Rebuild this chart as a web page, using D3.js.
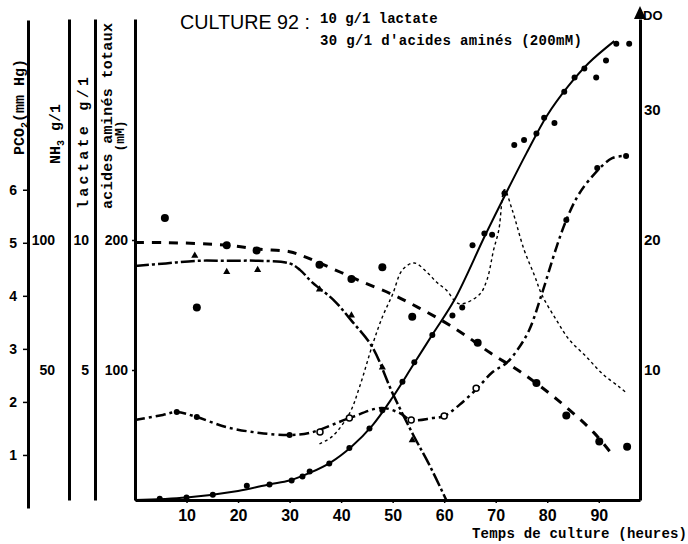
<!DOCTYPE html>
<html>
<head>
<meta charset="utf-8">
<script src="https://cdn.jsdelivr.net/npm/d3@7"></script>
<style>
  body { margin: 0; background: #fff; }
  svg { display: block; }
</style>
</head>
<body>
<div id="chart"></div>
<script>
// values, time in hours
const doCurveHours = [0, 10, 20, 26, 30, 34, 38, 42, 46, 50, 54, 58, 62, 68, 72, 76, 80, 84, 88, 93];
const doCurveValues = [0, 0.2, 0.7, 1.2, 1.5, 2.1, 2.9, 4.1, 5.7, 7.9, 10.4, 12.9, 15.4, 20.4, 23.6, 26.7, 29.6, 31.8, 33.6, 35.3];
const doPointHours = [4.8, 10, 15.1, 21.7, 26.1, 30.4, 32.5, 33.9, 37.7, 41.6, 45.5, 48, 51.9, 54.2, 57.7, 61.6, 63.5, 65.5, 67.8, 69.3, 71.7, 73.6, 75.5, 77.9, 79.4, 81.4, 83.3, 85.3, 87.2, 89.5, 91.4, 93.4, 95.9];
const doPointValues = [0.1, 0.2, 0.4, 1.1, 1.2, 1.5, 1.8, 2.2, 2.8, 4.0, 5.5, 6.9, 9.1, 10.6, 12.7, 14.2, 14.8, 19.6, 20.5, 20.4, 23.6, 27.3, 27.7, 28.2, 29.4, 29.0, 31.4, 32.5, 33.2, 32.5, 33.8, 35.1, 35.1];

const aaCurveHours = [0, 6, 18, 24, 30, 33, 36, 40, 44, 50, 55, 60, 64, 69, 75, 82, 89, 93];
const aaCurveValues = [198, 198, 196, 193, 191, 187, 182, 175, 168, 158, 148, 137, 127, 113, 98, 77, 52, 33];
const aaPointHours = [5.8, 12, 17.8, 23.6, 35.8, 42, 48, 53.8, 66.5, 77.9, 83.7, 90.1, 95.5];
const aaPointValues = [217, 148, 196, 192, 181, 170, 179, 141, 121, 90, 65, 45, 41];

const lacCurveHours = [0, 6, 12, 18, 24, 30, 32, 34.5, 38.5, 42, 46, 50, 54, 57, 60.4];
const lacCurveValues = [9.0, 9.1, 9.2, 9.2, 9.2, 9.1, 8.85, 8.35, 7.7, 6.9, 5.9, 4.1, 2.5, 1.4, 0];
const lacPointHours = [11.6, 17.8, 23.8, 35.8, 42, 48, 53.8];
const lacPointValues = [9.4, 8.77, 8.85, 8.1, 7.1, 5.1, 2.3];

const nh3CurveHours = [0, 5.4, 8.1, 12, 17.8, 24.2, 30, 33.9, 41.6, 47.8, 51.3, 53.6, 57.7, 60, 62.9, 66.2, 69.4, 72.1, 74.2, 76.5, 79, 81.8, 83.7, 85.8, 88.1, 92.6, 95.3];
const nh3CurveValues = [30.8, 32.7, 33.8, 31.9, 28, 25.8, 25, 25.8, 31.5, 35.4, 33.5, 30.8, 31.5, 32.3, 36.5, 42.5, 49.2, 52.7, 57.7, 65.4, 79.6, 97.3, 107.7, 116.5, 123, 131.5, 132.3];
const nh3FilledHours = [8.1, 12, 30, 83.7, 89.7, 95.3];
const nh3FilledValues = [33.8, 31.9, 25, 107.7, 127.7, 132.3];
const nh3OpenHours = [35.9, 41.6, 53.6, 60, 66.2];
const nh3OpenValues = [26.2, 31.5, 30.8, 32.3, 43];

const pco2Hours = [35.8, 38.3, 41.6, 43.6, 46.1, 48, 50, 51.9, 54.2, 56.6, 58.5, 60.4, 62.9, 66.8, 68.3, 69.6, 70.6, 71.7, 73.2, 75.5, 77.5, 79, 81.8, 84.3, 87.6, 90.7, 94, 95.5];
const pco2Values = [1.21, 1.35, 1.78, 2.29, 3.08, 3.6, 4.03, 4.49, 4.62, 4.45, 4.26, 4.11, 3.85, 4.02, 4.3, 4.87, 5.24, 6.0, 5.62, 4.87, 4.39, 4.01, 3.54, 3.17, 2.85, 2.53, 2.28, 2.16];

const hourTicks = [10, 20, 30, 40, 50, 60, 70, 80, 90];
const doTicks = [10, 20, 30];
const aaTicks = [100, 200];
const lacTicks = [5, 10];
const nh3Ticks = [50, 100];
const pco2Ticks = [1, 2, 3, 4, 5, 6];

class CultureChart {
  constructor(_parentElement) {
    this.parentElement = _parentElement;
    this.initVis();
  }

  initVis() {
    const vis = this;

    vis.WIDTH = 688;
    vis.HEIGHT = 544;
    vis.MONO = "'Liberation Mono', 'DejaVu Sans Mono', monospace";
    vis.SANS = "'Liberation Sans', Arial, sans-serif";

    vis.svg = d3
      .select(vis.parentElement)
      .append("svg")
      .attr("width", vis.WIDTH)
      .attr("height", vis.HEIGHT)
      .style("background", "#fff");

    vis.x = d3.scaleLinear().domain([0, 98]).range([135, 640]);
    vis.yDO = d3.scaleLinear().domain([0, 37]).range([500, 19]);
    vis.yAA = vis.yDO.copy().domain([0, 370]);
    vis.yLac = vis.yDO.copy().domain([0, 18.5]);
    vis.yNH3 = vis.yDO.copy().domain([0, 185]);
    vis.yPCO2 = d3.scaleLinear().domain([0, 9.2]).range([508, 20]);

    vis.drawAxes();
    vis.drawSeries();
    vis.drawTexts();
  }

  drawAxes() {
    const vis = this;

    const styleAxis = (g, size) => {
      g.attr("font-family", null).attr("font-size", null);
      g.select(".domain").attr("stroke-width", 3);
      g.selectAll(".tick line").attr("stroke-width", 1.5);
      g.selectAll(".tick text")
        .attr("font-family", vis.SANS)
        .attr("font-size", size)
        .attr("font-weight", "bold");
    };

    // left axes, one line per variable
    vis.svg.append("g")
      .attr("transform", "translate(28,0)")
      .call(d3.axisLeft(vis.yPCO2).tickValues(pco2Ticks).tickSize(5).tickSizeOuter(0).tickPadding(6))
      .call(styleAxis, 14);

    vis.svg.append("g")
      .attr("transform", "translate(69,0)")
      .call(d3.axisLeft(vis.yNH3).tickValues(nh3Ticks).tickSize(0).tickSizeOuter(0).tickPadding(14))
      .call(styleAxis, 14);

    vis.svg.append("g")
      .attr("transform", "translate(95,0)")
      .call(d3.axisLeft(vis.yLac).tickValues(lacTicks).tickSize(0).tickSizeOuter(0).tickPadding(6))
      .call(styleAxis, 14);

    vis.svg.append("g")
      .attr("transform", "translate(135,0)")
      .call(d3.axisLeft(vis.yAA).tickValues(aaTicks).tickSize(3).tickSizeOuter(0).tickPadding(4))
      .call(styleAxis, 14);

    // right axis (DO) with arrow
    vis.svg.append("g")
      .attr("transform", "translate(640,0)")
      .call(d3.axisRight(vis.yDO).tickValues(doTicks).tickSize(2).tickSizeOuter(0).tickPadding(2))
      .call(styleAxis, 15);

    vis.svg.append("line")
      .attr("x1", 640).attr("x2", 640)
      .attr("y1", 19).attr("y2", 12)
      .attr("stroke", "#000").attr("stroke-width", 3);

    vis.svg.append("path")
      .attr("d", "M640,6 L634,19 L646,19 Z")
      .attr("fill", "#000");

    // time axis
    vis.svg.append("g")
      .attr("transform", "translate(0,500)")
      .call(d3.axisBottom(vis.x).tickValues(hourTicks).tickSize(3).tickSizeOuter(0).tickPadding(7))
      .call(styleAxis, 16);
  }

  drawSeries() {
    const vis = this;

    const lineFor = (yScale) => d3.line()
      .x((d) => vis.x(d[0]))
      .y((d) => yScale(d[1]))
      .curve(d3.curveCatmullRom.alpha(0.5));

    const addLine = (hours, values, yScale, width, dash) => {
      vis.svg.append("path")
        .datum(d3.zip(hours, values))
        .attr("d", lineFor(yScale))
        .attr("fill", "none")
        .attr("stroke", "#000")
        .attr("stroke-width", width)
        .attr("stroke-dasharray", dash)
        .attr("stroke-linecap", "butt");
    };

    const addDots = (hours, values, yScale, r, open) => {
      vis.svg.append("g")
        .selectAll("circle")
        .data(d3.zip(hours, values))
        .enter()
        .append("circle")
        .attr("cx", (d) => vis.x(d[0]))
        .attr("cy", (d) => yScale(d[1]))
        .attr("r", r)
        .attr("fill", open ? "#fff" : "#000")
        .attr("stroke", "#000")
        .attr("stroke-width", open ? 1.5 : 0);
    };

    // PCO2, thin dotted line
    addLine(pco2Hours, pco2Values, vis.yPCO2, 1.4, "3,3");

    // NH3, dash-dot
    addLine(nh3CurveHours, nh3CurveValues, vis.yNH3, 2.5, "10,4,3,4");
    addDots(nh3FilledHours, nh3FilledValues, vis.yNH3, 3, false);
    addDots(nh3OpenHours, nh3OpenValues, vis.yNH3, 3, true);

    // lactate
    addLine(lacCurveHours, lacCurveValues, vis.yLac, 2.5, "14,3,3,3");
    vis.svg.append("g")
      .selectAll("path")
      .data(d3.zip(lacPointHours, lacPointValues))
      .enter()
      .append("path")
      .attr("d", d3.symbol(d3.symbolTriangle).size(22))
      .attr("transform", (d) => `translate(${vis.x(d[0])},${vis.yLac(d[1])})`)
      .attr("fill", "#000");

    // acides aminés, heavy dashes
    addLine(aaCurveHours, aaCurveValues, vis.yAA, 3, "9,8");
    addDots(aaPointHours, aaPointValues, vis.yAA, 4, false);

    // DO, solid
    addLine(doCurveHours, doCurveValues, vis.yDO, 2, null);
    addDots(doPointHours, doPointValues, vis.yDO, 3, false);
  }

  drawTexts() {
    const vis = this;

    const rotated = (cx, cy, size, length) => vis.svg.append("text")
      .attr("transform", `translate(${cx},${cy}) rotate(-90)`)
      .attr("text-anchor", "middle")
      .attr("dy", "0.35em")
      .attr("font-family", vis.MONO)
      .attr("font-weight", "bold")
      .attr("font-size", size)
      .attr("textLength", length)
      .attr("lengthAdjust", "spacing");

    const pco2 = rotated(19, 107, 15, null);
    pco2.append("tspan").text("PCO");
    pco2.append("tspan").attr("font-size", 10).attr("dy", "4").text("2");
    pco2.append("tspan").attr("dy", "-4").text("(mm Hg)");

    const nh3 = rotated(55, 134, 15, null);
    nh3.append("tspan").text("NH");
    nh3.append("tspan").attr("font-size", 10).attr("dy", "4").text("3");
    nh3.append("tspan").attr("dy", "-4").text(" g/1");

    rotated(83, 143, 15, 132).text("lactate g/1");
    rotated(107, 116, 15, 186).text("acides aminés totaux");
    rotated(119, 136, 13, null).text("(mM)");

    vis.svg.append("text")
      .attr("x", 180).attr("y", 29)
      .attr("font-family", vis.SANS)
      .attr("font-size", 20)
      .attr("textLength", 130)
      .attr("lengthAdjust", "spacingAndGlyphs")
      .text("CULTURE 92 :");

    vis.svg.append("text")
      .attr("x", 320).attr("y", 23)
      .attr("font-family", vis.MONO)
      .attr("font-weight", "bold")
      .attr("font-size", 14)
      .text("10 g/1 lactate");

    vis.svg.append("text")
      .attr("x", 320).attr("y", 45)
      .attr("font-family", vis.MONO)
      .attr("font-weight", "bold")
      .attr("font-size", 14)
      .attr("textLength", 262)
      .attr("lengthAdjust", "spacing")
      .text("30 g/1 d'acides aminés (200mM)");

    vis.svg.append("text")
      .attr("x", 643).attr("y", 20)
      .attr("font-family", vis.SANS)
      .attr("font-weight", "bold")
      .attr("font-size", 13)
      .text("DO");

    vis.svg.append("text")
      .attr("x", 472).attr("y", 538)
      .attr("font-family", vis.MONO)
      .attr("font-weight", "bold")
      .attr("font-size", 14)
      .attr("textLength", 215)
      .attr("lengthAdjust", "spacing")
      .text("Temps de culture (heures)");
  }
}

new CultureChart("#chart");
</script>
</body>
</html>
